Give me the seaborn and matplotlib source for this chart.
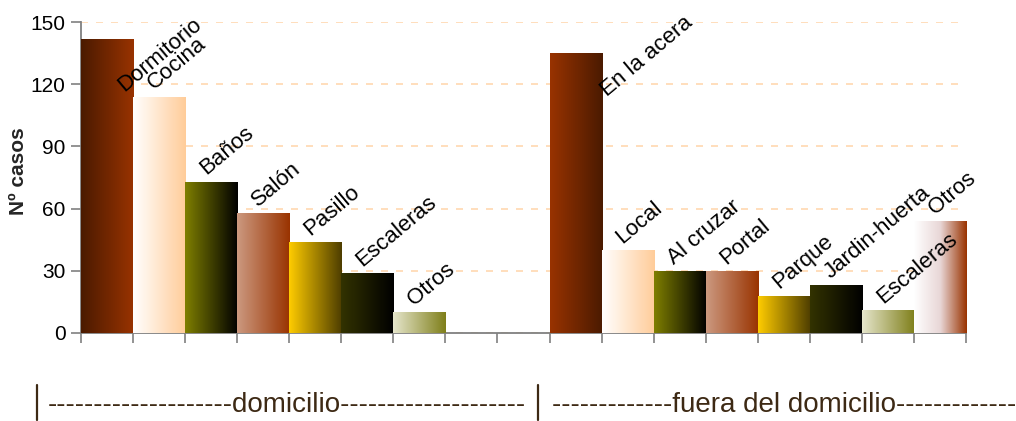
import numpy as np
import pandas as pd
import matplotlib
matplotlib.use("Agg")
import matplotlib.pyplot as plt
from matplotlib.colors import LinearSegmentedColormap
from matplotlib.lines import Line2D
import seaborn as sns

# Accident locations: number of cases inside and outside the home
home_places = ["Dormitorio", "Cocina", "Baños", "Salón", "Pasillo", "Escaleras", "Otros"]
home_cases = [142, 114, 73, 58, 44, 29, 10]

away_places = ["En la acera", "Local", "Al cruzar", "Portal", "Parque",
               "Jardin-huerta", "Escaleras", "Otros"]
away_cases = [135, 40, 30, 30, 18, 23, 11, 54]

y_ticks = [0, 30, 60, 90, 120, 150]
group_names = ["domicilio", "fuera del domicilio"]
y_title = "Nº casos"

# Horizontal gradient fills for every bar (left edge -> right edge)
home_fills = [
    ["#4a1a00", "#993300"],
    ["#ffffff", "#ffcc99"],
    ["#7f7f00", "#000000"],
    ["#cc9980", "#993300"],
    ["#ffcc00", "#4d3d00"],
    ["#333300", "#000000"],
    ["#e6e6cc", "#7f7f1a"],
]
away_fills = [
    ["#993300", "#4a1a00"],
    ["#ffffff", "#ffcc99"],
    ["#7f7f00", "#000000"],
    ["#cc9980", "#993300"],
    ["#ffcc00", "#4d3d00"],
    ["#333300", "#000000"],
    ["#e6e6cc", "#7f7f1a"],
    ["#ffffff", "#e8d6d6", "#993300"],
]

# Label offsets (category units, case units) relative to the bar top
label_dx, label_dy = -0.10, 3.0
label_shift = {"d:Dormitorio": (0.33, -26.0), "f:En la acera": (0.60, -21.0)}

sns.set_theme(style="white")
plt.rcParams["font.family"] = ["Liberation Sans", "DejaVu Sans"]

home_keys = [f"d:{p}" for p in home_places]
away_keys = [f"f:{p}" for p in away_places]
order = home_keys + ["gap1", "gap2"] + away_keys

df = pd.DataFrame({
    "key": home_keys + away_keys,
    "label": home_places + away_places,
    "casos": home_cases + away_cases,
})
fills = dict(zip(home_keys + away_keys, home_fills + away_fills))

W, H = 1016, 421
fig = plt.figure(figsize=(W / 100, H / 100), dpi=100)
ax = fig.add_axes([81 / W, 88 / H, 885 / W, 311 / H])

sns.barplot(data=df, x="key", y="casos", order=order, width=1.0,
            color="#993300", errorbar=None, ax=ax, zorder=2)

# Replace flat fills with clipped gradient images
grad = np.linspace(0, 1, 256).reshape(1, -1)
for patch in list(ax.patches):
    cx = patch.get_x() + patch.get_width() / 2
    key = order[int(round(cx))]
    cmap = LinearSegmentedColormap.from_list(key, fills[key])
    x0, y0 = patch.get_x(), patch.get_y()
    w, h = patch.get_width(), patch.get_height()
    im = ax.imshow(grad, cmap=cmap, extent=(x0, x0 + w, y0, y0 + h),
                   aspect="auto", origin="lower", zorder=3,
                   interpolation="bilinear")
    im.set_clip_path(patch)
    patch.set_facecolor("none")
    patch.set_edgecolor("none")

ax.set_xlim(-0.5, len(order) - 0.5)
ax.set_ylim(0, 150)
ax.set_yticks(y_ticks)
ax.set_xticks(np.arange(-0.5, len(order), 1.0))
ax.set_xticklabels([])
ax.set_xlabel("")
ax.set_ylabel(y_title, fontsize=15, fontweight="bold")
ax.yaxis.set_label_coords(-0.060, 0.52)

# Category labels above bars
pos = {k: i for i, k in enumerate(order)}
for key, lab, val in zip(df["key"], df["label"], df["casos"]):
    dx, dy = label_shift.get(key, (label_dx, label_dy))
    ax.text(pos[key] + dx, val + dy, lab, rotation=40, rotation_mode="anchor",
            ha="left", va="baseline", fontsize=16, color="black", zorder=5)

ax.yaxis.grid(True, color="#ffd8b0", linestyle=(0, (4.2, 4.8)), linewidth=1.2)
ax.xaxis.grid(False)
ax.set_axisbelow(True)
for s in ["top", "right"]:
    ax.spines[s].set_visible(False)
for s in ["left", "bottom"]:
    ax.spines[s].set_color("#808080")
    ax.spines[s].set_linewidth(1.3)
ax.tick_params(axis="y", length=7, width=1.2, color="#808080", direction="out",
               labelsize=15, pad=4, left=True, labelcolor="black")
ax.tick_params(axis="x", length=7, width=1.2, color="#808080", direction="out",
               bottom=True)

# Group captions under the axis
brown = "#3d2914"
fig.text(48 / W, 9 / H, "-" * 20 + group_names[0] + "-" * 20, ha="left",
         va="baseline", fontsize=20, color=brown)
fig.text(552 / W, 9 / H, "-" * 13 + group_names[1] + "-" * 13, ha="left",
         va="baseline", fontsize=20, color=brown)
for xp in (37, 538):
    fig.add_artist(Line2D([xp / W, xp / W], [1 / H, 36 / H], color=brown,
                          linewidth=1.6, transform=fig.transFigure))

fig.savefig("out.png", dpi=100)
